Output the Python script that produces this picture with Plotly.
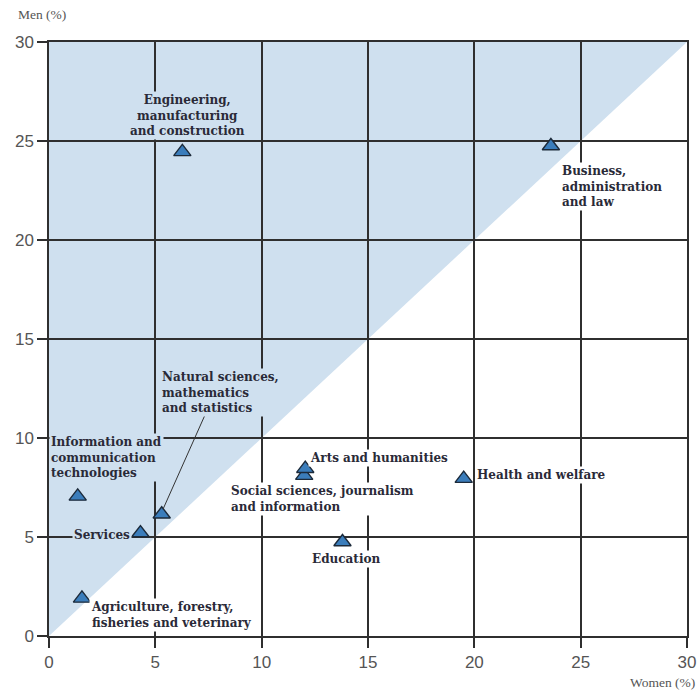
import plotly.graph_objects as go

# Data (percent of graduates by field)
fields = ["Engineering, manufacturing and construction", "Business, administration and law",
          "Information and communication technologies", "Natural sciences, mathematics and statistics",
          "Services", "Agriculture, forestry, fisheries and veterinary",
          "Social sciences, journalism and information", "Arts and humanities",
          "Education", "Health and welfare"]
women = [6.27, 23.6, 1.35, 5.3, 4.3, 1.55, 12.0, 12.05, 13.8, 19.5]
men = [24.45, 24.75, 7.05, 6.15, 5.2, 1.9, 8.1, 8.45, 4.75, 7.95]

tick_vals = [0, 5, 10, 15, 20, 25, 30]

# label layout: (text, x, y, xanchor, bg)
BLUE = "#cfe0ef"
labels = [
    ("Engineering,<br>manufacturing<br>and construction", 6.52, 26.3, "center", BLUE),
    ("Business,<br>administration<br>and law", 24.02, 22.7, "left", "white"),
    ("Information and<br>communication<br>technologies", 0.0, 9.0, "left", BLUE),
    ("Natural sciences,<br>mathematics<br>and statistics", 5.2, 12.3, "left", BLUE),
    ("Services", 3.9, 5.1, "right", BLUE),
    ("Agriculture, forestry,<br>fisheries and veterinary", 1.9, 1.05, "left", "white"),
    ("Social sciences, journalism<br>and information", 8.46, 6.9, "left", "white"),
    ("Arts and humanities", 12.16, 9.0, "left", "white"),
    ("Education", 13.95, 3.9, "center", "white"),
    ("Health and welfare", 20.05, 8.15, "left", "white"),
]

fig = go.Figure()
fig.add_trace(go.Scatter(
    x=women, y=men, mode="markers", text=fields, hoverinfo="text",
    marker=dict(symbol="triangle-up", size=15, color="#3b7dbb",
                line=dict(color="#1c2a3a", width=1.4)),
    showlegend=False))

# shaded region above the diagonal
fig.add_shape(type="path", path="M 0 0 L 0 30 L 30 30 Z", xref="x", yref="y",
              fillcolor=BLUE, line=dict(width=0), layer="below")
# leader line for natural sciences
fig.add_shape(type="line", x0=5.36, y0=6.4, x1=7.33, y1=11.15, xref="x", yref="y",
              line=dict(color="#333333", width=1))

for txt, x, y, anc, bg in labels:
    fig.add_annotation(x=x, y=y, text=txt, showarrow=False, xanchor=anc, yanchor="middle",
                       align=anc if anc != "center" else "center",
                       bgcolor=bg, borderpad=1,
                       font=dict(family="DejaVu Serif, Liberation Serif, serif", size=12,
                                 color="#2a2a38", weight="bold"))

fig.add_annotation(text="Men (%)", xref="paper", yref="paper", x=-0.052, y=1.03,
                   xanchor="left", yanchor="bottom", showarrow=False,
                   font=dict(family="Liberation Serif, serif", size=13.5, color="#555555"))
fig.add_annotation(text="Women (%)", xref="paper", yref="paper", x=1.016, y=-0.079,
                   xanchor="right", yanchor="middle", showarrow=False,
                   font=dict(family="Liberation Serif, serif", size=13.5, color="#555555"))

axis_common = dict(range=[0, 30], tickvals=tick_vals, showgrid=True, gridcolor="#2f2f2f",
                   gridwidth=1.5, zeroline=False, showline=True, linecolor="#2f2f2f",
                   linewidth=1.5, mirror=True, ticks="outside", ticklen=10,
                   tickcolor="#2f2f2f", tickwidth=1.5,
                   tickfont=dict(family="Liberation Sans Narrow, Liberation Sans, sans-serif",
                                 size=17, color="#555555"))
fig.update_xaxes(**axis_common)
fig.update_yaxes(**axis_common)

fig.update_layout(width=708, height=691, margin=dict(l=49, r=14, t=42, b=55),
                  plot_bgcolor="white", paper_bgcolor="white")

fig.write_html("out.html", config={"displayModeBar": False},
               post_script="document.body.style.margin='0';document.body.style.overflow='hidden';")
